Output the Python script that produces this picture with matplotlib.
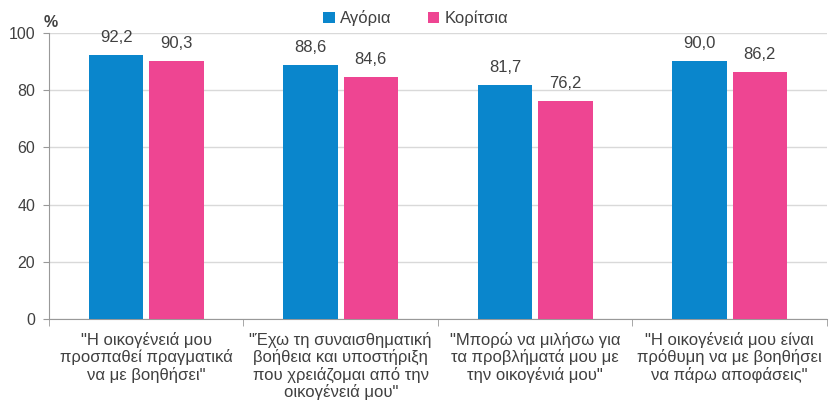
import numpy as np
import matplotlib
matplotlib.use("Agg")
import matplotlib.pyplot as plt

plt.rcParams["font.family"] = ["Liberation Sans", "DejaVu Sans"]

categories = ['"Η οικογένειά μου\nπροσπαθεί πραγματικά\nνα με βοηθήσει"',
              '"Έχω τη συναισθηματική\nβοήθεια και υποστήριξη\nπου χρειάζομαι από την\nοικογένειά μου"',
              '"Μπορώ να μιλήσω για\nτα προβλήματά μου με\nτην οικογένιά μου"',
              '"Η οικογένειά μου είναι\nπρόθυμη να με βοηθήσει\nνα πάρω αποφάσεις"']
boys = [92.2, 88.6, 81.7, 90.0]
girls = [90.3, 84.6, 76.2, 86.2]
yticks = [0, 20, 40, 60, 80, 100]

blue = "#0a86cc"
pink = "#ee4592"
txt = "#404040"

fig = plt.figure(figsize=(8.31, 4.05), dpi=100)
ax = fig.add_axes([0.059, 0.212, 0.936, 0.707])

x = np.arange(len(categories))
w = 0.28
off = 0.155
b1 = ax.bar(x - off, boys, w, color=blue, label="Αγόρια", zorder=3)
b2 = ax.bar(x + off, girls, w, color=pink, label="Κορίτσια", zorder=3)

for bars in (b1, b2):
    for r in bars:
        ax.text(r.get_x() + r.get_width() / 2, r.get_height() + 3.5,
                f"{r.get_height():.1f}".replace(".", ","),
                ha="center", va="bottom", fontsize=12, color=txt)

ax.set_xlim(-0.5, len(categories) - 0.5)
ax.set_ylim(0, 100)
ax.set_yticks(yticks)
ax.set_yticklabels([str(v) for v in yticks], fontsize=11.5, color=txt)
ax.set_xticks(x)
ax.set_xticklabels(categories, fontsize=12, color=txt, linespacing=1.12)
ax.tick_params(axis="x", length=0, pad=9)
ax.tick_params(axis="y", length=4, color="#999999", direction="out", pad=6)
# category boundary tick marks
ax.set_xticks(np.arange(-0.5, len(categories)), minor=True)
ax.tick_params(axis="x", which="minor", length=5, color="#999999")

ax.grid(axis="y", color="#d9d9d9", linewidth=1, zorder=0)
for s in ["top", "right"]:
    ax.spines[s].set_visible(False)
for s in ["left", "bottom"]:
    ax.spines[s].set_color("#999999")

fig.text(0.052, 0.945, "%", fontsize=11.5, fontweight="bold", color=txt, ha="left", va="center")

leg = fig.legend(handles=[b1, b2], loc="center", bbox_to_anchor=(0.5, 0.955), ncol=2,
                 frameon=False, fontsize=12, handlelength=0.7, handleheight=0.7,
                 handletextpad=0.3, columnspacing=2.2)
for t in leg.get_texts():
    t.set_color(txt)

fig.savefig("out.png", dpi=100)
